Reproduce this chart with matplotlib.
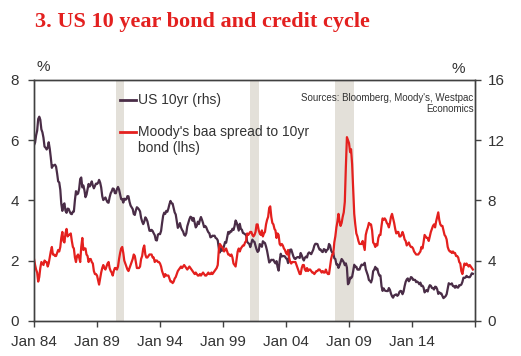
import pandas as pd
import matplotlib
matplotlib.use("Agg")
import matplotlib.pyplot as plt
import matplotlib.dates as mdates
from matplotlib.lines import Line2D

plt.rcParams['font.family'] = ['Liberation Sans', 'DejaVu Sans']

# monthly, Jan 1984 - Nov 2018
us10yr = [
    11.67, 11.84, 12.32, 12.63, 13.41, 13.56, 13.36, 12.72, 12.52, 12.16, 11.57, 11.50,
    11.38, 11.51, 11.86, 11.43, 10.85, 10.16, 10.31, 10.33, 10.37, 10.24, 9.78, 9.26,
    9.19, 8.70, 7.78, 7.30, 7.71, 7.80, 7.30, 7.17, 7.45, 7.43, 7.25, 7.11,
    7.08, 7.25, 7.25, 8.02, 8.61, 8.40, 8.45, 8.76, 9.42, 9.52, 8.86, 8.99,
    8.67, 8.21, 8.37, 8.72, 9.09, 8.92, 9.06, 9.26, 8.98, 8.80, 8.96, 9.11,
    9.09, 9.17, 9.36, 9.18, 8.86, 8.28, 8.02, 8.11, 8.19, 8.01, 7.87, 7.84,
    8.21, 8.47, 8.59, 8.79, 8.76, 8.48, 8.47, 8.75, 8.89, 8.72, 8.39, 8.08,
    8.09, 7.85, 8.11, 8.04, 8.07, 8.28, 8.27, 7.90, 7.65, 7.53, 7.42, 7.09,
    7.03, 7.34, 7.54, 7.48, 7.39, 7.26, 6.84, 6.59, 6.42, 6.59, 6.87, 6.77,
    6.60, 6.26, 5.98, 5.97, 6.04, 5.96, 5.81, 5.68, 5.36, 5.33, 5.72, 5.77,
    5.75, 5.97, 6.48, 6.97, 7.18, 7.10, 7.30, 7.24, 7.46, 7.74, 7.96, 7.81,
    7.78, 7.47, 7.20, 7.06, 6.63, 6.17, 6.28, 6.49, 6.20, 6.04, 5.93, 5.71,
    5.65, 5.81, 6.27, 6.51, 6.74, 6.91, 6.87, 6.64, 6.83, 6.53, 6.20, 6.30,
    6.58, 6.42, 6.69, 6.89, 6.71, 6.49, 6.22, 6.30, 6.21, 6.03, 5.88, 5.81,
    5.54, 5.57, 5.65, 5.64, 5.65, 5.50, 5.46, 5.34, 4.81, 4.53, 4.83, 4.65,
    4.72, 5.00, 5.23, 5.18, 5.54, 5.90, 5.79, 5.94, 5.92, 6.11, 6.03, 6.28,
    6.66, 6.52, 6.26, 5.99, 6.44, 6.10, 6.05, 5.83, 5.80, 5.74, 5.72, 5.24,
    5.16, 5.10, 4.89, 5.14, 5.39, 5.28, 5.24, 4.97, 4.73, 4.57, 4.65, 5.09,
    5.04, 4.91, 5.28, 5.21, 5.16, 4.93, 4.65, 4.26, 3.87, 3.94, 4.05, 4.03,
    4.05, 3.90, 3.81, 3.96, 3.57, 3.33, 3.98, 4.45, 4.27, 4.29, 4.30, 4.27,
    4.15, 4.08, 3.83, 4.35, 4.72, 4.73, 4.50, 4.28, 4.13, 4.10, 4.19, 4.23,
    4.22, 4.17, 4.50, 4.34, 4.14, 4.00, 4.18, 4.26, 4.20, 4.46, 4.54, 4.47,
    4.42, 4.57, 4.72, 4.99, 5.11, 5.11, 5.09, 4.88, 4.72, 4.73, 4.60, 4.56,
    4.76, 4.72, 4.56, 4.69, 4.75, 5.10, 5.00, 4.67, 4.52, 4.53, 4.15, 4.10,
    3.74, 3.74, 3.51, 3.68, 3.88, 4.10, 4.01, 3.89, 3.69, 3.81, 3.53, 2.42,
    2.52, 2.87, 2.82, 2.93, 3.29, 3.72, 3.56, 3.59, 3.40, 3.39, 3.40, 3.59,
    3.73, 3.69, 3.73, 3.85, 3.42, 3.20, 3.01, 2.70, 2.65, 2.54, 2.76, 3.29,
    3.39, 3.58, 3.41, 3.46, 3.17, 3.00, 3.00, 2.30, 1.98, 2.15, 2.01, 1.98,
    1.97, 1.97, 2.17, 2.05, 1.80, 1.62, 1.53, 1.68, 1.72, 1.75, 1.65, 1.72,
    1.91, 1.98, 1.96, 1.76, 1.93, 2.30, 2.58, 2.74, 2.81, 2.62, 2.72, 2.90,
    2.86, 2.71, 2.72, 2.71, 2.56, 2.60, 2.54, 2.42, 2.53, 2.30, 2.33, 2.21,
    1.88, 1.98, 2.04, 1.94, 2.20, 2.36, 2.32, 2.17, 2.17, 2.07, 2.26, 2.24,
    2.09, 1.78, 1.89, 1.81, 1.81, 1.64, 1.50, 1.56, 1.63, 1.76, 2.14, 2.49,
    2.43, 2.42, 2.48, 2.30, 2.30, 2.19, 2.32, 2.21, 2.20, 2.36, 2.35, 2.40,
    2.58, 2.86, 2.84, 2.87, 2.98, 2.91, 2.89, 2.89, 3.00, 3.15, 3.12,
]

baa_spread = [
    2.05, 1.85, 1.70, 1.60, 1.30, 1.45, 1.75, 1.95, 1.90, 1.85, 2.00, 1.95,
    1.95, 1.80, 1.90, 2.10, 2.30, 2.45, 2.20, 2.20, 2.15, 2.15, 2.25, 2.35,
    2.30, 2.45, 2.75, 2.95, 2.65, 2.60, 2.90, 3.05, 2.80, 2.85, 2.85, 2.90,
    2.65, 2.45, 2.40, 2.10, 1.95, 2.15, 2.20, 2.10, 1.95, 2.45, 2.75, 2.35,
    2.40, 2.40, 2.20, 2.15, 1.95, 2.05, 2.05, 1.95, 1.90, 1.65, 1.55, 1.55,
    1.50, 1.35, 1.20, 1.40, 1.60, 1.75, 1.85, 1.75, 1.70, 1.80, 1.90, 1.95,
    1.75, 1.65, 1.60, 1.50, 1.65, 1.75, 1.75, 1.70, 1.80, 2.05, 2.25, 2.40,
    2.45, 2.25, 2.00, 1.90, 1.80, 1.70, 1.65, 1.75, 1.85, 1.95, 2.05, 2.20,
    2.15, 1.95, 1.75, 1.75, 1.75, 1.80, 2.05, 2.15, 2.40, 2.50, 2.20, 2.10,
    2.10, 2.15, 2.20, 2.20, 2.20, 2.10, 2.10, 1.95, 2.00, 2.00, 1.95, 1.95,
    1.90, 1.80, 1.65, 1.55, 1.45, 1.55, 1.50, 1.50, 1.50, 1.40, 1.30, 1.30,
    1.25, 1.30, 1.40, 1.45, 1.55, 1.65, 1.70, 1.75, 1.80, 1.75, 1.80, 1.85,
    1.80, 1.75, 1.70, 1.75, 1.80, 1.75, 1.70, 1.65, 1.60, 1.55, 1.60, 1.55,
    1.50, 1.50, 1.55, 1.50, 1.55, 1.60, 1.55, 1.50, 1.50, 1.55, 1.60, 1.55,
    1.55, 1.60, 1.55, 1.60, 1.65, 1.70, 1.75, 1.85, 2.35, 2.55, 2.50, 2.45,
    2.40, 2.30, 2.35, 2.40, 2.30, 2.20, 2.20, 2.15, 2.20, 2.10, 1.90, 1.85,
    1.80, 2.05, 2.30, 2.40, 2.30, 2.40, 2.45, 2.50, 2.50, 2.60, 2.65, 2.90,
    2.85, 2.90, 2.95, 2.95, 2.85, 2.80, 2.85, 2.95, 3.20, 3.20, 3.00, 2.90,
    2.85, 3.00, 2.80, 2.90, 2.95, 3.20, 3.35, 3.45, 3.75, 3.80, 3.45, 3.25,
    3.20, 3.05, 3.00, 2.75, 2.90, 2.85, 2.55, 2.50, 2.55, 2.50, 2.40, 2.35,
    2.25, 2.20, 2.35, 2.10, 1.95, 1.90, 1.95, 1.95, 1.95, 1.95, 1.85, 1.75,
    1.65, 1.55, 1.55, 1.75, 1.85, 1.85, 1.70, 1.65, 1.75, 1.65, 1.70, 1.70,
    1.65, 1.60, 1.60, 1.55, 1.60, 1.65, 1.65, 1.70, 1.70, 1.65, 1.60, 1.65,
    1.60, 1.60, 1.70, 1.60, 1.55, 1.55, 1.80, 2.05, 2.20, 2.20, 2.60, 2.80,
    3.10, 3.30, 3.55, 3.30, 3.15, 3.25, 3.45, 3.60, 3.95, 5.10, 6.10, 6.00,
    5.90, 5.60, 5.70, 5.20, 4.40, 3.55, 3.20, 2.90, 2.80, 2.65, 2.55, 2.55,
    2.55, 2.65, 2.50, 2.35, 2.85, 3.00, 3.10, 3.25, 3.20, 3.20, 3.00, 2.60,
    2.55, 2.45, 2.55, 2.50, 2.75, 2.85, 2.85, 3.15, 3.40, 3.35, 3.40, 3.35,
    3.25, 3.20, 3.10, 3.25, 3.45, 3.55, 3.40, 3.25, 3.05, 2.90, 2.95, 2.95,
    2.80, 2.80, 2.85, 2.95, 2.85, 2.70, 2.65, 2.50, 2.55, 2.60, 2.50, 2.45,
    2.45, 2.40, 2.30, 2.25, 2.20, 2.20, 2.20, 2.25, 2.30, 2.45, 2.40, 2.60,
    2.85, 2.80, 2.75, 2.75, 2.65, 2.80, 2.95, 3.05, 3.15, 3.20, 3.10, 3.30,
    3.45, 3.60, 3.35, 3.20, 3.15, 3.15, 3.00, 2.85, 2.80, 2.70, 2.45, 2.35,
    2.30, 2.30, 2.25, 2.30, 2.25, 2.25, 2.15, 2.15, 2.10, 1.95, 1.90, 1.65,
    1.55, 1.75, 1.90, 1.85, 1.90, 1.85, 1.80, 1.85, 1.80, 1.75, 1.70,
]

# US recessions (NBER)
recession_start = ['1990-07-01', '2001-03-01', '2007-12-01']
recession_end = ['1991-03-01', '2001-11-01', '2009-06-01']

tick_years = [1984, 1989, 1994, 1999, 2004, 2009, 2014, 2019]

dates = pd.date_range('1984-01-01', periods=len(us10yr), freq='MS')

PURPLE = '#4a2d47'
RED = '#e4201e'
GREY = '#404040'
SHADE = '#e3e0d9'

fig = plt.figure(figsize=(5.21, 3.56), dpi=100)
ax = fig.add_axes([0.0653, 0.0992, 0.8464, 0.6761])
ax2 = ax.twinx()

# red (lhs) drawn above purple (rhs)
ax.set_zorder(ax2.get_zorder() + 1)
ax.patch.set_visible(False)

for s, e in zip(recession_start, recession_end):
    ax2.axvspan(pd.Timestamp(s), pd.Timestamp(e), color=SHADE, lw=0, zorder=0)

ax2.plot(dates, us10yr, color=PURPLE, lw=1.6)
ax.plot(dates, baa_spread, color=RED, lw=1.6)

ax.set_xlim(pd.Timestamp('1984-01-01'), pd.Timestamp('2019-01-01'))
ax.set_ylim(0, 8)
ax2.set_ylim(0, 16)
ax.set_yticks([0, 2, 4, 6, 8])
ax2.set_yticks([0, 4, 8, 12, 16])

ticks = [pd.Timestamp(f'{y}-01-01') for y in tick_years]
ax.set_xticks(ticks)
ax.set_xticklabels([f'Jan {str(y)[2:]}' for y in tick_years[:-1]] + [''])

for a in (ax, ax2):
    for sp in a.spines.values():
        sp.set_color(GREY)
        sp.set_linewidth(1.0)
    a.tick_params(colors=GREY, labelcolor='#333333', labelsize=11,
                  length=4, width=1.0, direction='out')
ax.tick_params(axis='y', pad=7)
ax2.tick_params(axis='y', pad=5)
ax.tick_params(axis='x', pad=6)

fig.text(0.067, 0.938, '3. US 10 year bond and credit cycle', color='#e3201f',
         fontsize=16, fontweight='bold', family='Liberation Serif',
         ha='left', va='center')

fig.text(43 / 521, 1 - 67 / 356, '%', fontsize=11, color='#333333',
         ha='center', va='center')
fig.text(458 / 521, 1 - 69 / 356, '%', fontsize=11, color='#333333',
         ha='center', va='center')

ax.text(0.997, 0.945, "Sources: Bloomberg, Moody's, Westpac\nEconomics",
        transform=ax.transAxes, fontsize=7, color='#333333',
        ha='right', va='top', linespacing=1.1)

# legend
ax.add_line(Line2D([0.195, 0.231], [0.917, 0.917], transform=ax.transAxes,
                   color=PURPLE, lw=2))
ax.text(0.236, 0.917, 'US 10yr (rhs)', transform=ax.transAxes,
        fontsize=10, color='#333333', va='center')
ax.add_line(Line2D([0.195, 0.231], [0.784, 0.784], transform=ax.transAxes,
                   color=RED, lw=2))
ax.text(0.236, 0.784, "Moody's baa spread to 10yr", transform=ax.transAxes,
        fontsize=10, color='#333333', va='center')
ax.text(0.236, 0.717, 'bond (lhs)', transform=ax.transAxes,
        fontsize=10, color='#333333', va='center')

fig.savefig('out.png', dpi=100, facecolor='white')
